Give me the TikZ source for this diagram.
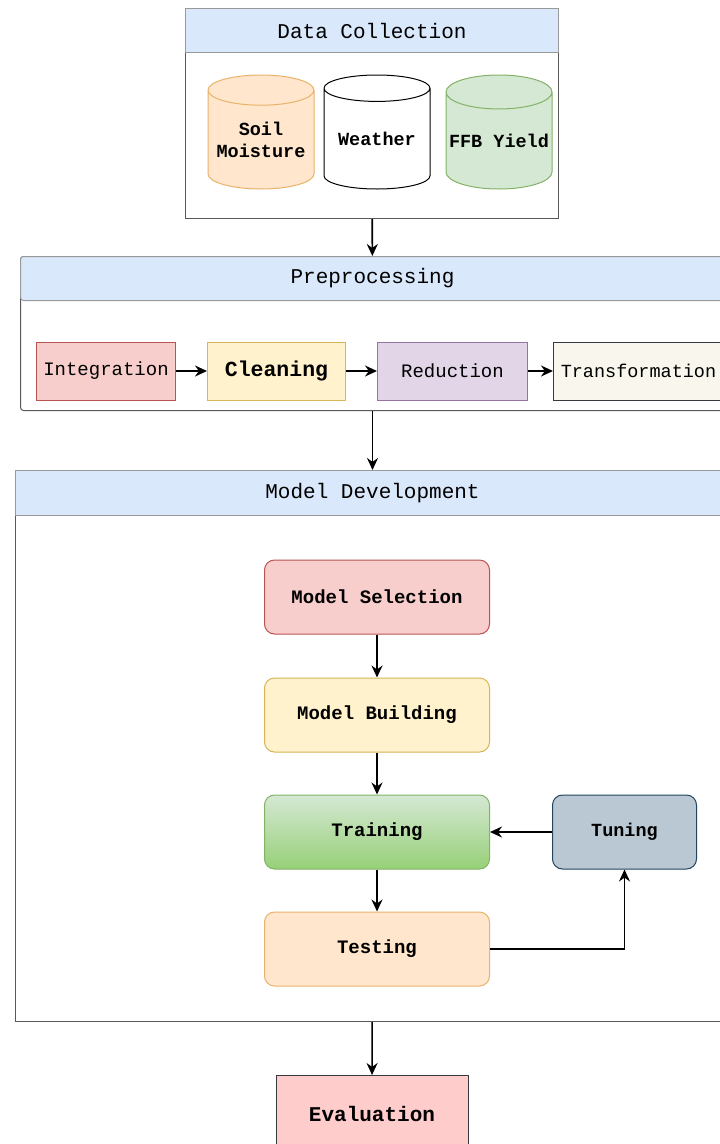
\documentclass[tikz,border=0pt]{standalone}
\usepackage{fontspec}
\setmainfont{Liberation Serif}
\setmonofont{Liberation Mono}
\usetikzlibrary{positioning,shapes.geometric,arrows.meta}

\definecolor{bandblue}{HTML}{DAE8FC}
\definecolor{peachfill}{HTML}{FFE6CC}
\definecolor{peachline}{HTML}{E8B36A}
\definecolor{sagefill}{HTML}{D5E8D4}
\definecolor{sageline}{HTML}{82B366}
\definecolor{rosefill}{HTML}{F8CECC}
\definecolor{roseline}{HTML}{B85450}
\definecolor{creamfill}{HTML}{FFF2CC}
\definecolor{creamline}{HTML}{D6B656}
\definecolor{lilacfill}{HTML}{E1D5E7}
\definecolor{lilacline}{HTML}{9673A6}
\definecolor{ivoryfill}{HTML}{F9F7ED}
\definecolor{slateline}{HTML}{36393D}
\definecolor{leafdark}{HTML}{97D077}
\definecolor{steelfill}{HTML}{BAC8D3}
\definecolor{steelline}{HTML}{23445D}
\definecolor{pinkfill}{HTML}{FFCCCC}

\begin{document}
\begin{tikzpicture}[
    x=1pt,y=-1pt,
    panel/.style={rectangle,draw=black!65,line width=1pt,fill=white},
    band/.style={rectangle,draw=black!40,fill=bandblue,line width=1pt,minimum height=44,font=\ttfamily\fontsize{21}{24}\selectfont},
    store/.style={cylinder,shape border rotate=90,shape aspect=0.34,draw,line width=1pt,inner xsep=0pt,minimum width=106,minimum height=114,align=center,anchor=shape center,font=\ttfamily\bfseries\fontsize{18.5}{22}\selectfont},
    stage/.style={rectangle,line width=1pt,minimum height=58,font=\ttfamily\fontsize{19}{22}\selectfont},
    task/.style={rectangle,rounded corners=10,line width=1pt,minimum width=225,minimum height=74,font=\ttfamily\bfseries\fontsize{19}{22}\selectfont},
    arrow/.style={-{Stealth[length=12pt,width=11pt]},line width=1.6pt}
  ]
    \useasboundingbox (0,0) rectangle (720,1144);
    \fill[white] (0,0) rectangle (720,1144);
    \clip (0,0) rectangle (720,1144);

    % data collection
    \node[panel,minimum width=373,minimum height=210,anchor=north west] (collect) at (185,8) {};
    \node[band,minimum width=373,anchor=north west] (collecthead) at (185,8) {Data Collection};
    \node[store,fill=peachfill,draw=peachline] (soil) at (261,132) {Soil\\Moisture};
    \node[store,fill=white] (weather) at (377,132) {Weather};
    \node[store,fill=sagefill,draw=sageline] (ffb) at (499,132) {FFB Yield};

    % preprocessing
    \node[panel,rounded corners=3,minimum width=704,minimum height=154,anchor=north west] (prep) at (20,256) {};
    \node[band,rounded corners=3,minimum width=704,anchor=north west] (prephead) at (20,256) {Preprocessing};
    \node[stage,fill=rosefill,draw=roseline,minimum width=139] (integ) at (106,371) {Integration};
    \node[stage,fill=creamfill,draw=creamline,minimum width=138,right=31pt of integ,font=\ttfamily\bfseries\fontsize{21.5}{24}\selectfont] (clean) {Cleaning};
    \node[stage,fill=lilacfill,draw=lilacline,minimum width=150,right=31pt of clean] (reduce) {Reduction};
    \node[stage,fill=ivoryfill,draw=slateline,minimum width=170,right=25pt of reduce,font=\ttfamily\fontsize{18.5}{22}\selectfont] (transform) {Transformation};

    % model development
    \node[panel,minimum width=714,minimum height=551,anchor=north west] (model) at (15,470) {};
    \node[band,minimum width=714,minimum height=45,anchor=north west] (modelhead) at (15,470) {Model Development};
    \node[task,fill=rosefill,draw=roseline] (select) at (377,597) {Model Selection};
    \node[task,fill=creamfill,draw=creamline,below=43pt of select] (build) {Model Building};
    \node[task,top color=sagefill,bottom color=leafdark,draw=sageline,below=42pt of build] (train) {Training};
    \node[task,fill=peachfill,draw=peachline,below=42pt of train] (test) {Testing};
    \node[task,fill=steelfill,draw=steelline,minimum width=144,right=62pt of train,font=\ttfamily\fontsize{18.5}{22}\selectfont\bfseries] (tune) {Tuning};

    % evaluation
    \node[rectangle,fill=pinkfill,draw=slateline,line width=1pt,minimum width=192,minimum height=76,anchor=north,font=\ttfamily\bfseries\fontsize{21}{24}\selectfont] (eval) at (372,1075) {Evaluation};

    \draw[arrow] (collect) -- (prep);
    \draw[arrow] (prep) -- (model);
    \draw[arrow] (integ) -- (clean);
    \draw[arrow] (clean) -- (reduce);
    \draw[arrow] (reduce) -- (transform);
    \draw[arrow] (select) -- (build);
    \draw[arrow] (build) -- (train);
    \draw[arrow] (train) -- (test);
    \draw[arrow] (tune) -- (train);
    \draw[arrow] (test) -| (tune);
    \draw[arrow] (model) -- (eval);
  \end{tikzpicture}
\end{document}
